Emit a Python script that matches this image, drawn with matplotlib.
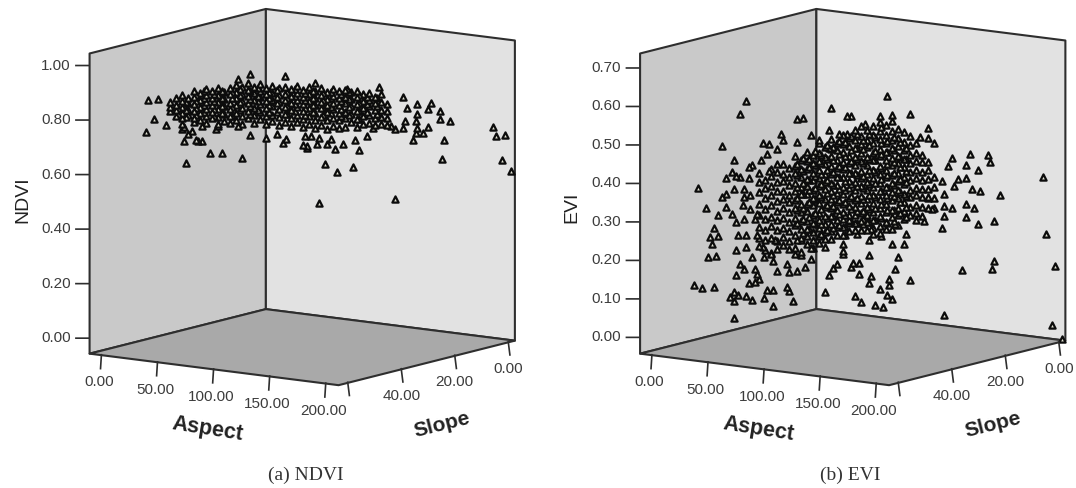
from matplotlib import pyplot as plt
from mpl_toolkits.mplot3d.art3d import Poly3DCollection
from mpl_toolkits.mplot3d import proj3d
import numpy as np

plt.rcParams['font.family'] = ['Liberation Sans', 'DejaVu Sans']

aspect_ticks = [0, 50, 100, 150, 200]
slope_ticks = [0, 20, 40, 60]
slope_tick_labels = ['0.00', '20.00', '40.00', '']
ndvi_ticks = [0.0, 0.2, 0.4, 0.6, 0.8, 1.0]
evi_ticks = [0.0, 0.1, 0.2, 0.3, 0.4, 0.5, 0.6, 0.7]

# scattered NDVI points
ndvi_aspect = [23, 28, 26, 32, 22, 42, 54, 60, 70, 74, 82, 87, 92, 90, 102, 68, 74, 91, 68, 57,
               41, 40, 43, 41, 45, 47, 50, 48, 50, 58, 40,
               106, 138, 150, 122, 152, 157, 164, 162, 168, 168, 173, 197, 200, 208, 210, 205,
               170, 169, 146, 108, 111, 117, 125, 128, 132, 135, 126, 116, 120, 102, 100, 107,
               112, 114, 108, 104, 101, 155, 156, 160, 162, 157, 146, 150, 151, 156, 157, 144]
ndvi_slope = [56, 54.3, 55, 53, 56.3, 49.6, 45.6, 43.6, 40.3, 39, 36.3, 34.6, 33, 33.6, 29.6, 41, 39, 33.3, 41, 44.6,
              50, 50.3, 49.3, 50, 48.6, 48, 47, 47.6, 47, 44.3, 50.3,
              28.3, 17.6, 13.6, 23, 13, 11.3, 9, 9.6, 7.6, 7.6, 6, 0, 0, 0, -1.5, 0,
              7, 7.3, 15, 27.6, 26.6, 24.6, 22, 21, 19.6, 18.6, 21.6, 25, 23.6, 29.6, 30.3, 28,
              26.3, 25.6, 27.6, 29, 30, 12, 11.6, 10.3, 9.6, 11.3, 15, 13.6, 13.3, 11.6, 11.3, 15.6]
ndvi_values = [.874, .876, .803, .779, .757, .637, .670, .665, .647, .730, .714, .727, .707, .693, .678, .935, .951, .939, .762, .754,
               .769, .759, .743, .715, .75, .72, .712, .713, .767, .765, .78,
               .909, .885, .845, .882, .804, .817, .819, .797, .788, .759, .75, .727, .692, .703, .568, .61,
               .681, .611, .471, .467, .61, .579, .594, .656, .707, .735, .694, .664, .68, .671, .683, .685,
               .683, .70, .706, .715, .715, .685, .711, .71, .731, .729, .728, .731, .757, .754, .78, .739]

# dense NDVI band, one aspect/slope pair per column of values
ndvi_band_aspect = [34, 37, 40, 43, 46, 49, 52, 55, 58, 61, 64, 67, 70, 73, 76, 79, 82, 85, 88,
                    91, 94, 97, 100, 103, 106, 109, 112, 115, 118, 121, 124, 127, 130, 133, 136, 139, 142,
                    38, 42, 47, 51, 56, 60, 65, 69, 74, 78, 83, 87, 92, 96, 101, 105, 110, 114, 119, 123, 128, 132, 137]
ndvi_band_slope = [52.3, 51.3, 50.3, 49.3, 48.3, 47.3, 46.3, 45.3, 44.3, 43.3, 42.3, 41.3, 40.3, 39.3, 38.3, 37.3, 36.3, 35.3, 34.3,
                   33.3, 32.3, 31.3, 30.3, 29.3, 28.3, 27.3, 26.3, 25.3, 24.3, 23.3, 22.3, 21.3, 20.3, 19.3, 18.3, 17.3, 16.3,
                   50.9, 49.6, 47.9, 46.6, 44.9, 43.6, 41.9, 40.6, 38.9, 37.6, 35.9, 34.6, 32.9, 31.6, 29.9, 28.6, 26.9, 25.6, 23.9, 22.6, 20.9, 19.6, 17.9]
ndvi_band_values = [
    [.86, .845, .83], [.875, .85, .83, .81], [.885, .865, .84, .82, .80], [.875, .855, .83, .81],
    [.90, .875, .85, .825, .80, .785], [.89, .865, .84, .815, .79], [.905, .88, .855, .83, .805, .78],
    [.895, .87, .845, .82, .795], [.905, .88, .855, .83, .80, .775], [.89, .865, .84, .81, .785],
    [.905, .88, .85, .825, .80, .775], [.915, .89, .865, .84, .81, .785], [.905, .88, .855, .83, .80, .77],
    [.92, .895, .87, .845, .815, .79], [.905, .88, .855, .825, .80, .77], [.915, .89, .865, .84, .81, .785],
    [.90, .875, .85, .825, .795, .765], [.905, .88, .855, .83, .80, .775], [.895, .87, .845, .82, .79, .76],
    [.90, .875, .85, .825, .80, .77], [.89, .865, .84, .815, .785, .755], [.90, .875, .85, .825, .795, .77],
    [.885, .86, .835, .81, .78, .75], [.895, .87, .845, .82, .79, .76], [.88, .855, .83, .80, .775, .745],
    [.89, .865, .84, .815, .785, .755], [.875, .85, .825, .80, .77, .74], [.885, .86, .835, .81, .78, .75],
    [.875, .85, .825, .795, .77, .74], [.88, .855, .83, .80, .775, .745], [.87, .845, .82, .79, .76],
    [.875, .85, .825, .80, .77, .74], [.86, .835, .81, .78, .75], [.865, .84, .815, .785, .755],
    [.85, .825, .80, .77, .745], [.86, .83, .80, .775, .75], [.82, .795, .77, .745],
    [.84, .815], [.86, .83, .805], [.885, .86, .835, .81], [.895, .87, .845, .82], [.885, .86, .83, .805],
    [.895, .87, .84, .815], [.89, .865, .835, .80], [.90, .875, .85, .82], [.89, .86, .835, .805],
    [.90, .87, .85, .82], [.885, .86, .835, .81], [.89, .865, .84, .81], [.88, .86, .83, .80],
    [.89, .865, .835, .81], [.875, .85, .82, .795], [.88, .855, .83, .805], [.87, .845, .815, .79],
    [.875, .85, .82, .795], [.865, .84, .81, .785], [.87, .845, .815, .785], [.86, .83, .80, .77],
    [.85, .825, .795], [.845, .815, .785]]

# scattered EVI points
evi_aspect = [47, 44, 72, 75, 89, 35, 41, 23, 27, 33, 31, 64, 65, 55, 58, 62, 57, 72, 79, 83, 88, 93, 97, 97, 88,
              62, 58, 50, 48, 54, 40, 37, 42, 48, 44, 41, 46, 37, 35, 46, 49, 37, 45, 49, 40, 52, 46, 42, 51,
              29, 33, 30, 28, 32, 21, 25, 31, 41, 41, 39, 41, 43, 47, 50, 56, 57, 60, 60, 70, 67, 68,
              48, 51, 53, 52, 51, 42, 46, 44, 62, 68, 72, 76, 67, 60, 50, 56, 59, 55, 47, 42, 71, 74, 79, 79, 86,
              92, 90, 88, 86, 43, 52, 47, 61, 72, 74, 95,
              117, 128, 99, 113, 119, 137, 133, 137, 140, 106, 158, 167, 168, 156, 162, 149, 147, 197,
              173, 163, 159, 156, 152, 150, 156, 160, 156, 162, 170, 144, 145, 149, 145, 145, 139, 137, 144,
              135, 121, 98, 105, 200, 208, 205, 210, 145, 154, 169, 170, 128, 121, 122, 108, 100, 103, 99, 103,
              109, 108, 118, 118, 113, 117, 119, 101, 104, 111, 115, 126, 125, 119, 114, 108, 102, 109, 96, 95, 95]
evi_slope = [48, 49, 39.6, 38.6, 34, 52, 50, 56, 54.6, 52.6, 53.3, 42.3, 42, 45.3, 44.3, 43, 44.6, 39.6, 37.3, 36, 34.3, 32.6, 31.3, 31.3, 34.3,
             43, 44.3, 47, 47.6, 45.6, 50.3, 51.3, 49.6, 47.6, 49, 50, 48.3, 51.3, 52, 48.3, 47.3, 51.3, 48.6, 47.3, 50.3, 46.3, 48.3, 49.6, 46.6,
             54, 52.6, 53.6, 54.3, 53, 56.6, 55.3, 53.3, 50, 50, 50.6, 50, 49.3, 48, 47, 45, 44.6, 43.6, 43.6, 40.3, 41.3, 41,
             47.6, 46.6, 45.9, 46.3, 46.6, 49.6, 48.3, 49, 43, 41, 39.6, 38.3, 41.3, 43.6, 47, 45, 44, 45.3, 48, 49.6, 39.9, 38.9, 37.3, 37.3, 34.9,
             32.9, 33.6, 34.3, 34.9, 49.3, 46.3, 48, 43.3, 39.6, 38.9, 31.9,
             24.6, 20.9, 30.6, 25.9, 23.9, 17.9, 19.3, 17.9, 16.9, 28.3, 10.9, 7.9, 7.6, 11.6, 9.6, 13.9, 14.6, 0,
             5.9, 9.3, 10.6, 11.6, 12.9, 13.6, 11.6, 10.3, 11.6, 9.6, 6.9, 15.6, 15.3, 13.9, 15.3, 15.3, 17.3, 17.9, 15.6,
             18.6, 23.3, 30.9, 28.6, 0, 0, 0, -1.5, 15.3, 12.3, 7.3, 6.9, 20.9, 23.3, 22.9, 27.6, 30.3, 29.3, 30.6, 29.3,
             27.3, 27.6, 24.3, 24.3, 25.9, 24.6, 23.9, 29.9, 28.9, 26.6, 25.3, 21.6, 21.9, 23.9, 25.6, 27.6, 29.6, 27.3, 31.6, 31.9, 31.9]
evi_values = [.607, .576, .557, .557, .580, .495, .457, .388, .334, .315, .282, .518, .502, .498, .493, .479, .469, .495, .514, .498, .525, .512, .511, .558, .476,
              .442, .425, .442, .437, .454, .426, .411, .415, .409, .412, .382, .380, .369, .362, .359, .364, .335, .339, .328, .317, .314, .303, .295, .301,
              .259, .261, .239, .207, .209, .136, .127, .128, .046, .113, .101, .09, .105, .102, .09, .095, .115, .115, .073, .084, .121, .110,
              .134, .137, .143, .158, .171, .158, .172, .185, .163, .160, .161, .171, .181, .19, .203, .201, .208, .226, .229, .222, .205, .202, .191, .220, .221,
              .176, .164, .148, .104, .262, .258, .260, .245, .242, .242, .2,
              .606, .557, .557, .554, .556, .518, .496, .492, .479, .535, .446, .442, .424, .418, .404, .438, .417, .383,
              .336, .349, .355, .384, .382, .365, .317, .305, .283, .263, .269, .257, .345, .308, .314, .288, .307, .336, .379,
              .277, .272, .289, .288, .235, .155, 0.0, -.038, .032, .145, .145, .165, .126, .155, .186, .196, .177, .176, .166, .146,
              .14, .123, .129, .114, .106, .09, .077, .089, .074, .065, .059, .245, .219, .220, .242, .235, .25, .262, .25, .225, .207]

# dense EVI blob, one aspect/slope pair per column of values
evi_blob_aspect = [53, 56, 59, 62, 65, 68, 71, 74, 77, 80, 83, 86, 89, 92, 95,
                   98, 101, 104, 107, 110, 113, 116, 119, 122, 125, 128, 131, 134, 137, 140,
                   72, 75, 78, 81, 84, 87, 90, 93, 96, 99, 102, 105, 108, 111, 114, 117, 120, 123, 126]
evi_blob_slope = [45.9, 44.9, 43.9, 42.9, 41.9, 40.9, 39.9, 38.9, 37.9, 36.9, 35.9, 34.9, 33.9, 32.9, 31.9,
                  30.9, 29.9, 28.9, 27.9, 26.9, 25.9, 24.9, 23.9, 22.9, 21.9, 20.9, 19.9, 18.9, 17.9, 16.9,
                  39.6, 38.6, 37.6, 36.6, 35.6, 34.6, 33.6, 32.6, 31.6, 30.6, 29.6, 28.6, 27.6, 26.6, 25.6, 24.6, 23.6, 22.6, 21.6]
evi_blob_values = [
    [.42, .395, .37, .34, .31, .28, .25, .23],
    [.40, .38, .355, .325, .30, .27, .245, .22],
    [.43, .41, .385, .36, .335, .305, .28, .25, .21],
    [.42, .395, .37, .345, .32, .295, .27, .24, .22],
    [.44, .415, .395, .37, .35, .325, .30, .275, .25, .23],
    [.43, .405, .385, .36, .34, .315, .29, .265, .24, .22],
    [.46, .435, .415, .39, .37, .345, .325, .30, .28, .255, .22],
    [.45, .425, .405, .38, .36, .335, .315, .29, .27, .245, .21],
    [.47, .445, .425, .40, .38, .36, .335, .315, .29, .27, .25, .23],
    [.46, .44, .415, .395, .37, .35, .33, .305, .285, .26, .24, .22],
    [.49, .465, .445, .42, .40, .38, .355, .335, .31, .29, .27, .25, .23],
    [.48, .455, .435, .41, .39, .37, .345, .325, .30, .28, .26, .24],
    [.50, .475, .455, .43, .41, .385, .365, .345, .32, .30, .28, .26, .24],
    [.49, .47, .445, .425, .40, .38, .36, .335, .315, .29, .27, .25],
    [.51, .485, .465, .44, .42, .40, .375, .355, .33, .31, .29, .27, .25],
    [.50, .48, .455, .435, .41, .39, .37, .345, .325, .30, .28, .26],
    [.52, .495, .475, .45, .43, .41, .385, .365, .34, .32, .30, .28, .26],
    [.53, .505, .485, .46, .44, .415, .395, .375, .35, .33, .305, .285, .26],
    [.52, .495, .475, .45, .43, .405, .385, .365, .34, .32, .30, .28, .26],
    [.53, .505, .485, .46, .44, .415, .395, .37, .35, .33, .305, .285, .265, .25],
    [.54, .515, .495, .47, .45, .425, .405, .38, .36, .34, .315, .295, .27, .25],
    [.53, .505, .485, .46, .44, .415, .395, .37, .35, .325, .305, .28, .26],
    [.54, .515, .49, .47, .445, .425, .40, .38, .355, .335, .31, .29, .26],
    [.52, .495, .475, .45, .43, .405, .385, .36, .34, .315, .295, .27],
    [.51, .485, .465, .44, .42, .395, .375, .35, .33, .305, .285],
    [.50, .475, .45, .43, .405, .385, .36, .34, .315, .295],
    [.48, .455, .435, .41, .39, .365, .345, .32, .30, .28],
    [.45, .43, .405, .385, .36, .34, .315, .29],
    [.43, .41, .385, .36, .34, .31],
    [.39, .365, .335, .31],
    [.44, .41, .38, .35, .32, .285],
    [.455, .42, .39, .36, .325, .295, .26],
    [.45, .43, .395, .37, .34, .30, .27],
    [.47, .435, .405, .375, .345, .31, .28],
    [.46, .44, .41, .385, .35, .32, .28, .255],
    [.485, .45, .42, .395, .36, .33, .295, .265],
    [.48, .445, .415, .38, .355, .325, .30, .27],
    [.495, .46, .43, .40, .37, .34, .305, .275],
    [.49, .455, .425, .39, .365, .335, .30, .27],
    [.505, .47, .44, .41, .38, .35, .315, .285],
    [.51, .475, .445, .405, .375, .345, .31, .28],
    [.495, .47, .435, .40, .37, .34, .31, .275],
    [.51, .48, .445, .415, .38, .35, .315, .28],
    [.50, .465, .44, .41, .38, .345, .315, .285],
    [.525, .485, .455, .42, .39, .36, .325, .29],
    [.49, .46, .43, .40, .37, .34, .31, .275],
    [.50, .465, .435, .405, .375, .345, .31, .28],
    [.485, .445, .42, .39, .355, .33, .30],
    [.47, .44, .41, .38, .345, .315, .29]]

PX = 1076.0
PY = 488.0
aspect_lim = (-11, 211)
slope_lim = (-2.3, 63.6)
LINE = '#2e2e2e'
TEXT = '#3c3c3c'


def label3d(ax, x, y, z, txt, **kw):
    # plain 2D text placed at the projected position of a 3D point
    px, py, _ = proj3d.proj_transform(x, y, z, ax.get_proj())
    ax.text2D(px, py, txt, transform=ax.transData, va='center', fontsize=11, color=TEXT, **kw)


def draw_panel(ax, aspect, slope, values, zlim, zticks):
    a0, a1 = aspect_lim
    s0, s1 = slope_lim
    z0, z1 = zlim
    zunit = (z1 - z0) / 299.5  # one pixel of height
    ax.set_proj_type('ortho')
    ax.view_init(elev=10.3, azim=-54.7)
    ax.set_box_aspect((1, 1, 1))
    ax.set_axis_off()
    ax.computed_zorder = False
    walls = [([(a0, s1, z0), (a0, s0, z0), (a0, s0, z1), (a0, s1, z1)], '#c9c9c9'),
             ([(a0, s0, z0), (a1, s0, z0), (a1, s0, z1), (a0, s0, z1)], '#e2e2e2'),
             ([(a0, s1, z0), (a1, s1, z0), (a1, s0, z0), (a0, s0, z0)], '#a9a9a9')]
    for verts, col in walls:
        ax.add_collection3d(Poly3DCollection([verts], facecolors=col, edgecolors=LINE, linewidths=1.5))
    for a in aspect_ticks:
        ax.plot([a, a - 0.8], [s1, s1], [z0, z0 - 14 * zunit], color=LINE, lw=1.2)
    for s in slope_ticks:
        ax.plot([a1, a1 + 1.5], [s, s], [z0, z0 - 13 * zunit], color=LINE, lw=1.2)
    for z in zticks:
        ax.plot([a0, a0 - 7.8], [s1, s1 + 1.64], [z, z], color=LINE, lw=1.2)
    ax.scatter(aspect, slope, values, marker='^', s=20, facecolors='#e4e4d4', edgecolors='#0c0c0c',
               linewidths=1.6, depthshade=False)
    ax.set_xlim(a0, a1)
    ax.set_ylim(s1, s0)
    ax.set_zlim(z0, z1)
    for a in aspect_ticks:
        label3d(ax, a - 2, s1, z0 - 28 * zunit, '%.2f' % a, ha='center')
    for s, lab in zip(slope_ticks, slope_tick_labels):
        if lab:
            label3d(ax, a1, s, z0 - 27 * zunit, lab, ha='center')
    for z in zticks:
        label3d(ax, a0 - 11, s1 + 2.3, z, '%.2f' % z, ha='right')


fig = plt.figure(figsize=(10.76, 4.88), dpi=100)
ax1 = fig.add_axes([38.3 / PX, 28 / PY, 513 / PX, 513 / PY], projection='3d')
ax2 = fig.add_axes([588.8 / PX, 28 / PY, 513 / PX, 513 / PY], projection='3d')

all_a = ndvi_aspect + list(np.repeat(ndvi_band_aspect, [len(v) for v in ndvi_band_values]))
all_s = ndvi_slope + list(np.repeat(ndvi_band_slope, [len(v) for v in ndvi_band_values]))
all_v = ndvi_values + [x for v in ndvi_band_values for x in v]
draw_panel(ax1, all_a, all_s, all_v, (-0.055, 1.046), ndvi_ticks)

all_a = evi_aspect + list(np.repeat(evi_blob_aspect, [len(v) for v in evi_blob_values]))
all_s = evi_slope + list(np.repeat(evi_blob_slope, [len(v) for v in evi_blob_values]))
all_v = evi_values + [x for v in evi_blob_values for x in v]
draw_panel(ax2, all_a, all_s, all_v, (-0.041, 0.739), evi_ticks)

for dx, name, ylab_x, ylab_y, cap, cap_x in [(0, 'NDVI', 23, 200, '(a) NDVI', 306), (550.5, 'EVI', 572, 207, '(b) EVI', 850)]:
    fig.text((208 + dx) / PX, 1 - 429.5 / PY, 'Aspect', rotation=-9, ha='center', va='center',
             fontsize=15.5, fontweight='bold', color='#222222')
    fig.text((442 + dx) / PX, 1 - 425 / PY, 'Slope', rotation=14, ha='center', va='center',
             fontsize=15, fontweight='bold', color='#222222')
    fig.text(ylab_x / PX, 1 - ylab_y / PY, name, rotation=90, ha='center', va='center', fontsize=14, color='#222222')
    fig.text(cap_x / PX, 1 - 475 / PY, cap, ha='center', va='center', fontsize=14, color='#333333',
             family=['Liberation Serif', 'DejaVu Serif'])

fig.savefig('out.png', dpi=100)
